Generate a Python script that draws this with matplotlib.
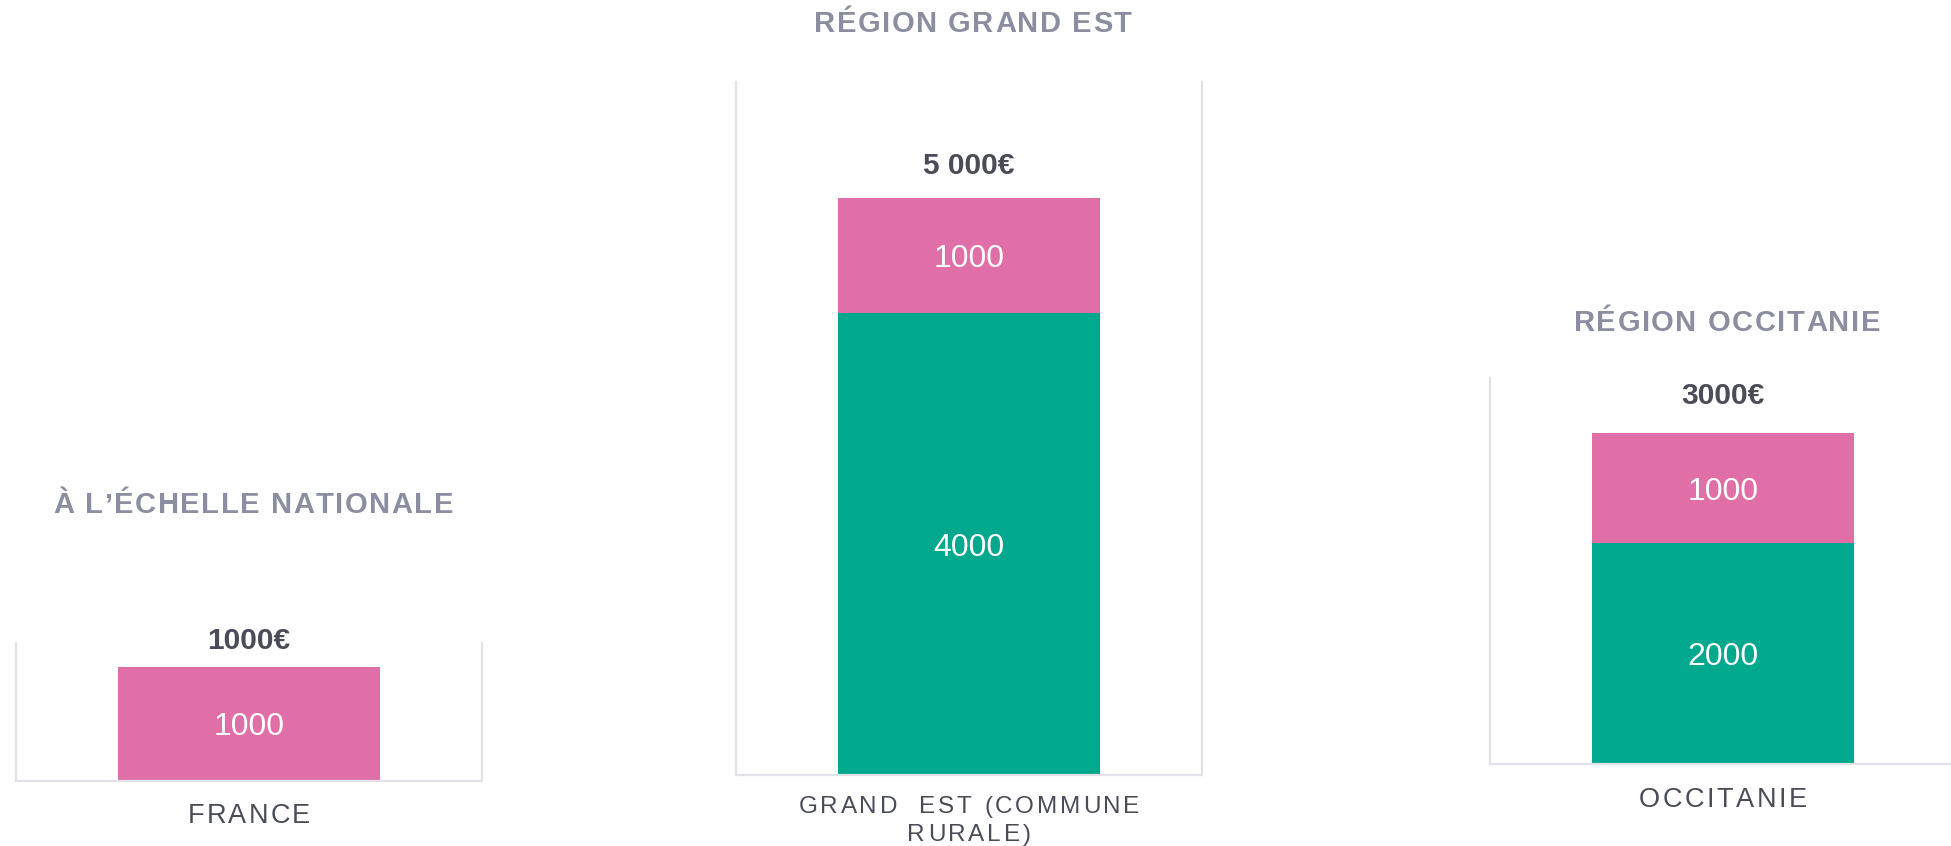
import matplotlib.pyplot as plt
from matplotlib.font_manager import FontProperties

W, H = 1951, 846

titles = ["À L’ÉCHELLE NATIONALE", "RÉGION GRAND EST", "RÉGION OCCITANIE"]
categories = [["FRANCE"], ["GRAND  EST (COMMUNE", "RURALE)"], ["OCCITANIE"]]
green_vals = [0, 4000, 2000]
pink_vals = [1000, 1000, 1000]
total_labels = ["1000€", "5 000€", "3000€"]

GREEN = "#00a88d"
PINK = "#e06ea7"
TITLE_GREY = "#8a8ea0"
DARK = "#4a4c58"
FRAME = "#e2e2e8"
FONT = "Liberation Sans"

# panel boxes in pixels: left, top, right, bottom
boxes = [(16, 643, 482, 781), (736, 82, 1202, 775), (1490, 378, 1956, 764)]
ymax = [1210, 6000, 3500]
total_off = [26, 32, 37]
title_y = [505, 24, 323]
label_y = [816, 807, 800]
label_size = [19.5, 17.5, 19.5]
label_track = [2.2, 2.8, 2.6]

fig = plt.figure(figsize=(W / 100, H / 100), dpi=100)
renderer = fig.canvas.get_renderer()


def spaced_text(x, y, s, size, color, weight="normal", track=3.0):
    """Centre s at pixel (x, y), measured from the top left, with extra letter spacing."""
    fp = FontProperties(family=FONT, size=size, weight=weight)

    def width(t):
        return renderer.get_text_width_height_descent(t, fp, ismath=False)[0]

    bar = width("||")
    adv = [width("|" + c + "|") - bar for c in s]
    total = sum(adv) + track * (len(s) - 1)
    cx = x - total / 2
    for c, a in zip(s, adv):
        if not c.isspace():
            fig.text(cx / W, 1 - y / H, c, ha="left", va="center",
                     fontproperties=fp, color=color)
        cx += a + track


for i in range(3):
    x0, y0, x1, y1 = boxes[i]
    ax = fig.add_axes([x0 / W, 1 - y1 / H, (x1 - x0) / W, (y1 - y0) / H])
    ax.set_xlim(-0.5, 0.5)
    ax.set_ylim(0, ymax[i])

    g, p = green_vals[i], pink_vals[i]
    if g:
        ax.bar(0, g, width=0.562, color=GREEN)
        ax.text(0, g / 2, str(g), ha="center", va="center_baseline",
                color="white", family=FONT, size=23)
    ax.bar(0, p, bottom=g, width=0.562, color=PINK)
    ax.text(0, g + p / 2, str(p), ha="center", va="center_baseline",
            color="white", family=FONT, size=23)

    ax.annotate(total_labels[i], (0, g + p), xytext=(0, total_off[i]),
                textcoords="offset pixels", ha="center", va="center",
                family=FONT, size=21.5, weight="bold", color=DARK)

    ax.set_xticks([])
    ax.set_yticks([])
    ax.spines["top"].set_visible(False)
    for side in ("left", "right", "bottom"):
        ax.spines[side].set_color(FRAME)
        ax.spines[side].set_linewidth(1.6)

    cx = (x0 + x1) / 2
    spaced_text(cx + 4, title_y[i], titles[i], 21, TITLE_GREY,
                weight="bold", track=1.5)
    for k, line in enumerate(categories[i]):
        spaced_text(cx, label_y[i] + 28 * k, line, label_size[i], DARK,
                    track=label_track[i])

fig.savefig("out.png", dpi=100, facecolor="white")
